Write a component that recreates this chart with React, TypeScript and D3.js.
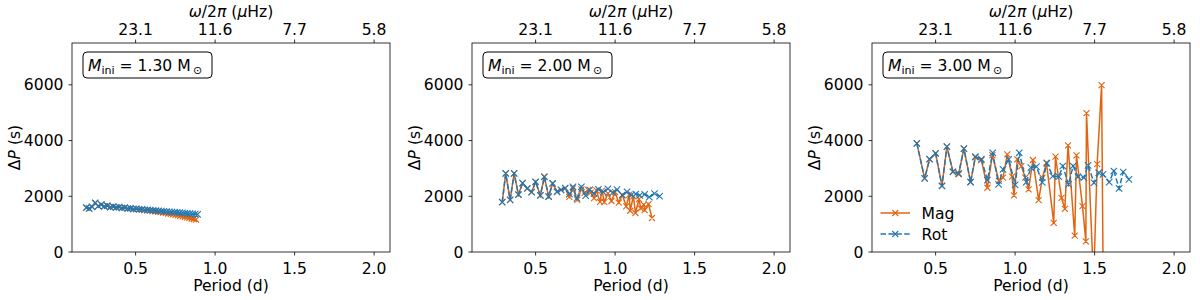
import React from "react";
import * as d3 from "d3";

// ---------- data ----------
const masses = ["1.30", "2.00", "3.00"];
const xTicks = [0.5, 1.0, 1.5, 2.0];
const yTicks = [0, 2000, 4000, 6000];
const topTickLabels = ["23.1", "11.6", "7.7", "5.8"];

// Panel 1 (1.30 Msun)
const p1RotPeriod = [0.190, 0.208, 0.226, 0.246, 0.265, 0.284, 0.303, 0.322, 0.341, 0.359, 0.378, 0.396, 0.414, 0.432, 0.450, 0.468, 0.486, 0.504, 0.522, 0.540, 0.557, 0.575, 0.592, 0.610, 0.627, 0.644, 0.661, 0.678, 0.695, 0.712, 0.728, 0.745, 0.761, 0.778, 0.794, 0.810, 0.826, 0.842, 0.858, 0.874, 0.890];
const p1RotDP = [1590, 1560, 1620, 1760, 1650, 1700, 1640, 1660, 1610, 1630, 1600, 1610, 1580, 1590, 1560, 1570, 1545, 1550, 1530, 1530, 1515, 1510, 1500, 1495, 1485, 1478, 1468, 1460, 1452, 1445, 1435, 1428, 1420, 1410, 1402, 1393, 1385, 1376, 1368, 1360, 1350];
const p1MagPeriod = [0.190, 0.208, 0.226, 0.246, 0.265, 0.284, 0.303, 0.322, 0.341, 0.359, 0.378, 0.396, 0.414, 0.432, 0.450, 0.468, 0.486, 0.504, 0.521, 0.539, 0.556, 0.573, 0.590, 0.607, 0.624, 0.641, 0.657, 0.673, 0.689, 0.705, 0.721, 0.736, 0.751, 0.766, 0.781, 0.796, 0.810, 0.824, 0.838, 0.852, 0.866, 0.880];
const p1MagDP = [1590, 1560, 1620, 1760, 1650, 1700, 1640, 1660, 1610, 1630, 1600, 1610, 1580, 1590, 1560, 1565, 1540, 1540, 1530, 1520, 1505, 1495, 1482, 1470, 1455, 1442, 1428, 1412, 1398, 1382, 1366, 1350, 1334, 1316, 1298, 1280, 1262, 1242, 1222, 1202, 1184, 1165];

// Panel 2 (2.00 Msun)
const p2RotPeriod = [0.290, 0.312, 0.340, 0.365, 0.392, 0.418, 0.448, 0.475, 0.500, 0.530, 0.555, 0.582, 0.607, 0.635, 0.660, 0.686, 0.712, 0.735, 0.760, 0.788, 0.815, 0.840, 0.867, 0.895, 0.925, 0.955, 0.985, 1.012, 1.045, 1.075, 1.103, 1.130, 1.155, 1.186, 1.215, 1.248, 1.280];
const p2RotDP = [1790, 2820, 1870, 2820, 2060, 2470, 2280, 2150, 2520, 2030, 2700, 1990, 2460, 2160, 2230, 2290, 2080, 2340, 1930, 2340, 2020, 2230, 2100, 2250, 2150, 2270, 2130, 2240, 2040, 2160, 2050, 2080, 2030, 2070, 1970, 2100, 2000];
const p2MagPeriod = [0.290, 0.312, 0.340, 0.365, 0.392, 0.418, 0.448, 0.475, 0.500, 0.530, 0.555, 0.582, 0.607, 0.635, 0.660, 0.686, 0.712, 0.735, 0.762, 0.788, 0.808, 0.830, 0.846, 0.868, 0.882, 0.905, 0.918, 0.932, 0.955, 0.977, 1.000, 1.023, 1.045, 1.070, 1.088, 1.095, 1.115, 1.128, 1.150, 1.161, 1.180, 1.186, 1.210, 1.232];
const p2MagDP = [1790, 2820, 1870, 2820, 2060, 2470, 2280, 2150, 2520, 2030, 2700, 1990, 2460, 2160, 2230, 2290, 1980, 2280, 1870, 2250, 2120, 2230, 2130, 1930, 2210, 1800, 2200, 1790, 2100, 1830, 2150, 1770, 2050, 1640, 2050, 1480, 2000, 1400, 1900, 1570, 1700, 1500, 1720, 1220];

// Panel 3 (3.00 Msun)
const p3RotPeriod = [0.382, 0.431, 0.462, 0.500, 0.540, 0.571, 0.609, 0.645, 0.678, 0.720, 0.750, 0.788, 0.826, 0.859, 0.896, 0.924, 0.960, 1.000, 1.026, 1.071, 1.099, 1.134, 1.171, 1.200, 1.237, 1.275, 1.300, 1.336, 1.365, 1.396, 1.432, 1.459, 1.496, 1.526, 1.553, 1.592, 1.621, 1.654, 1.680, 1.716];
const p3RotDP = [3900, 2640, 3330, 3540, 2370, 3780, 2880, 2820, 3710, 2510, 3420, 3330, 2580, 3560, 2425, 2966, 3326, 2410, 3560, 2510, 3030, 3063, 2500, 3180, 2724, 2702, 3085, 2425, 3085, 2702, 2666, 3110, 2486, 2846, 2786, 2508, 2905, 2281, 2870, 2606];
const p3MagPeriod = [0.382, 0.431, 0.462, 0.500, 0.540, 0.571, 0.609, 0.645, 0.678, 0.720, 0.750, 0.788, 0.826, 0.857, 0.898, 0.924, 0.951, 0.981, 0.993, 1.014, 1.039, 1.064, 1.085, 1.112, 1.148, 1.172, 1.197, 1.243, 1.254, 1.292, 1.313, 1.333, 1.375, 1.386, 1.424, 1.445, 1.449, 1.494, 1.516, 1.544, 1.556];
const p3MagDP = [3900, 2640, 3330, 3540, 2370, 3780, 2880, 2790, 3710, 2510, 3400, 3300, 2306, 3480, 2550, 2666, 3507, 2702, 2029, 3326, 3085, 2666, 2245, 3301, 1860, 2666, 3207, 1045, 3423, 1946, 1550, 3830, 587, 3470, 1643, 382, 4984, -1080, 3150, 5990, -2500];

// ---------- layout ----------
const PANEL_LEFT = [72, 472, 872];
const TOP = 43;
const W = 318;
const H = 209;
const MAG = "#e3640f";
const ROT = "#1f77b4";
const FONT = "DejaVu Sans, sans-serif";
const FS = 15.6;
const SUB = 11;

const x = d3.scaleLinear().domain([0.1, 2.1]).range([0, W]);
const y = d3.scaleLinear().domain([0, 7500]).range([H, 0]);
const line = d3
  .line<[number, number]>()
  .x((d) => x(d[0]))
  .y((d) => y(d[1]));

function xMarks(pts: [number, number][], s: number) {
  return pts
    .map(([a, b]) => {
      const cx = x(a);
      const cy = y(b);
      return `M${cx - s},${cy - s}L${cx + s},${cy + s}M${cx - s},${cy + s}L${cx + s},${cy - s}`;
    })
    .join("");
}

function zip(a: number[], b: number[]): [number, number][] {
  return a.map((v, i) => [v, b[i]] as [number, number]);
}

type PanelProps = {
  idx: number;
  mass: string;
  rot: [number, number][];
  mag: [number, number][];
  legend: boolean;
};

function Panel({ idx, mass, rot, mag, legend }: PanelProps) {
  const left = PANEL_LEFT[idx];
  const clipId = `clip${idx}`;
  return (
    <g transform={`translate(${left},${TOP})`} fontFamily={FONT} fontSize={FS} fill="#000">
      <defs>
        <clipPath id={clipId}>
          <rect x={0} y={0} width={W} height={H} />
        </clipPath>
      </defs>
      {/* data */}
      <g clipPath={`url(#${clipId})`}>
        <path d={line(mag) || ""} fill="none" stroke={MAG} strokeWidth={1.5} />
        <path d={xMarks(mag, 3)} fill="none" stroke={MAG} strokeWidth={1.1} />
        <path d={line(rot) || ""} fill="none" stroke={ROT} strokeWidth={1.5} strokeDasharray="5.5,2.4" />
        <path d={xMarks(rot, 3.2)} fill="none" stroke={ROT} strokeWidth={1.1} />
      </g>
      {/* frame */}
      <rect x={0} y={0} width={W} height={H} fill="none" stroke="#000" strokeWidth={0.8} />
      {/* bottom & top axes */}
      {xTicks.map((t, i) => (
        <g key={`bx${t}`} transform={`translate(${x(t)},0)`}>
          <line y1={H} y2={H + 3.5} stroke="#000" strokeWidth={0.8} />
          <text y={H + 22} textAnchor="middle">{t.toFixed(1)}</text>
          <line y1={0} y2={-3.5} stroke="#000" strokeWidth={0.8} />
          <text y={-8} textAnchor="middle">{topTickLabels[i]}</text>
        </g>
      ))}
      {/* left axis */}
      {yTicks.map((t) => (
        <g key={`ly${t}`} transform={`translate(0,${y(t)})`}>
          <line x1={0} x2={-3.5} stroke="#000" strokeWidth={0.8} />
          <text x={-8.5} y={5.5} textAnchor="end">{t}</text>
        </g>
      ))}
      {/* axis labels */}
      <text x={W / 2} y={H + 39} textAnchor="middle">Period (d)</text>
      <text x={W / 2} y={-26.5} textAnchor="middle">
        <tspan fontStyle="italic">ω</tspan>/2<tspan fontStyle="italic">π</tspan> (<tspan fontStyle="italic">μ</tspan>Hz)
      </text>
      <text transform={`translate(-52.5,${H / 2}) rotate(-90)`} textAnchor="middle">
        Δ<tspan fontStyle="italic">P</tspan> (s)
      </text>
      {/* mass box */}
      <rect x={11} y={9} width={129} height={26} rx={4} ry={4} fill="#fff" stroke="#000" strokeWidth={1} />
      <text x={16} y={27.5}>
        <tspan fontStyle="italic">M</tspan>
        <tspan fontSize={SUB} dy={3}>ini</tspan>
        <tspan dy={-3}>{` = ${mass} M`}</tspan>
        <tspan fontSize={SUB} dy={3}>{"\u2009⊙"}</tspan>
      </text>
      {legend && (
        <g>
          <line x1={8.5} x2={38} y1={170} y2={170} stroke={MAG} strokeWidth={1.5} />
          <path d={`M${23.25 - 3},${167}L${23.25 + 3},${173}M${23.25 - 3},${173}L${23.25 + 3},${167}`} stroke={MAG} strokeWidth={1.1} />
          <text x={49.5} y={175.5}>Mag</text>
          <line x1={8.5} x2={38} y1={191} y2={191} stroke={ROT} strokeWidth={1.5} strokeDasharray="5.5,2.4" />
          <path d={`M${23.25 - 3},${188}L${23.25 + 3},${194}M${23.25 - 3},${194}L${23.25 + 3},${188}`} stroke={ROT} strokeWidth={1.1} />
          <text x={49.5} y={196.5}>Rot</text>
        </g>
      )}
    </g>
  );
}

export default function App() {
  const panels = [
    { rot: zip(p1RotPeriod, p1RotDP), mag: zip(p1MagPeriod, p1MagDP) },
    { rot: zip(p2RotPeriod, p2RotDP), mag: zip(p2MagPeriod, p2MagDP) },
    { rot: zip(p3RotPeriod, p3RotDP), mag: zip(p3MagPeriod, p3MagDP) },
  ];
  return (
    <svg
      width={1200}
      height={300}
      style={{ position: "absolute", left: 0, top: 0, background: "#fff" }}
    >
      <rect width={1200} height={300} fill="#fff" />
      {panels.map((p, i) => (
        <Panel key={i} idx={i} mass={masses[i]} rot={p.rot} mag={p.mag} legend={i === 2} />
      ))}
    </svg>
  );
}
